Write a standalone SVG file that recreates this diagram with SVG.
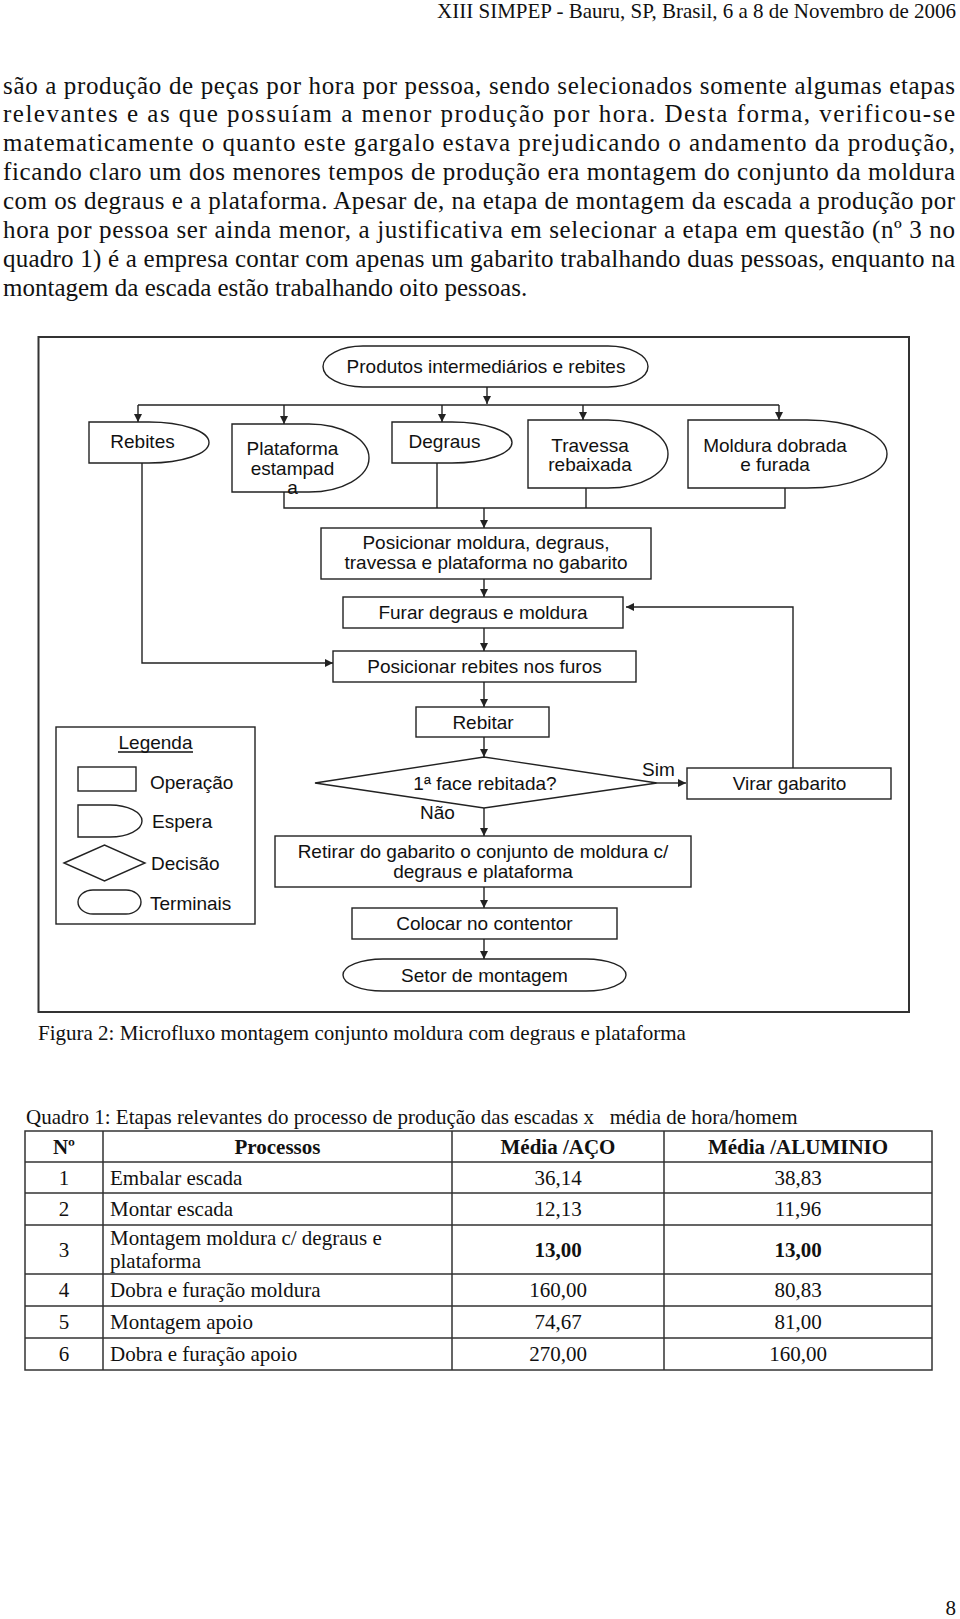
<svg xmlns="http://www.w3.org/2000/svg" width="960" height="1619" viewBox="0 0 960 1619">
<defs>
<style>
.ln{fill:none;stroke:#222;stroke-width:1.4}
.sh{fill:#fff;stroke:#222;stroke-width:1.4}
.fc{font-family:"Liberation Sans",Arial,sans-serif;font-size:19px;fill:#111}
.mid{text-anchor:middle}
.body{font-family:"Liberation Serif","Times New Roman",serif;font-size:25px;fill:#111}
.sm{font-family:"Liberation Serif","Times New Roman",serif;font-size:21px;fill:#111}
.b{font-weight:bold}
.tb{fill:none;stroke:#333;stroke-width:1.5}
</style>
<marker id="ah" viewBox="0 0 10 10" refX="10" refY="5" markerWidth="8" markerHeight="9" markerUnits="userSpaceOnUse" orient="auto">
<path d="M0,0 L10,5 L0,10 z" fill="#222"/>
</marker>
</defs>
<rect x="0" y="0" width="960" height="1619" fill="#fff"/>

<text class="sm" x="956" y="18" text-anchor="end">XIII SIMPEP - Bauru, SP, Brasil, 6 a 8 de Novembro de 2006</text>

<g id="body-text" class="body">
<text x="3" y="93.5" textLength="952" lengthAdjust="spacing">são a produção de peças por hora por pessoa, sendo selecionados somente algumas etapas</text>
<text x="3" y="122.4" textLength="952" lengthAdjust="spacing">relevantes e as que possuíam a menor produção por hora. Desta forma, verificou-se</text>
<text x="3" y="151.3" textLength="952" lengthAdjust="spacing">matematicamente o quanto este gargalo estava prejudicando o andamento da produção,</text>
<text x="3" y="180.2" textLength="952" lengthAdjust="spacing">ficando claro um dos menores tempos de produção era montagem do conjunto da moldura</text>
<text x="3" y="209.1" textLength="952" lengthAdjust="spacing">com os degraus e a plataforma. Apesar de, na etapa de montagem da escada a produção por</text>
<text x="3" y="238" textLength="952" lengthAdjust="spacing">hora por pessoa ser ainda menor, a justificativa em selecionar a etapa em questão (nº 3 no</text>
<text x="3" y="266.9" textLength="952" lengthAdjust="spacing">quadro 1) é a empresa contar com apenas um gabarito trabalhando duas pessoas, enquanto na</text>
<text x="3" y="295.8">montagem da escada estão trabalhando oito pessoas.</text>
</g>

<rect id="frame" x="38.5" y="337" width="870.5" height="675" fill="none" stroke="#333" stroke-width="2"/>

<g id="connectors" class="ln">
<path d="M487,387 V404" marker-end="url(#ah)"/>
<path d="M138,405 H779"/>
<path d="M138,405 V422" marker-end="url(#ah)"/>
<path d="M284,405 V424" marker-end="url(#ah)"/>
<path d="M442,405 V422" marker-end="url(#ah)"/>
<path d="M583,405 V420" marker-end="url(#ah)"/>
<path d="M779,405 V420" marker-end="url(#ah)"/>
<path d="M284,492 V508 H785 V488"/>
<path d="M437,463 V508"/>
<path d="M586,488 V508"/>
<path d="M484,508 V528" marker-end="url(#ah)"/>
<path d="M484,579 V597" marker-end="url(#ah)"/>
<path d="M484,628 V651" marker-end="url(#ah)"/>
<path d="M142,463 V663 H333" marker-end="url(#ah)"/>
<path d="M484,682 V707" marker-end="url(#ah)"/>
<path d="M484,737 V757" marker-end="url(#ah)"/>
<path d="M657,783 H686" marker-end="url(#ah)"/>
<path d="M793,768 V607 H626" marker-end="url(#ah)"/>
<path d="M484,808 V836" marker-end="url(#ah)"/>
<path d="M484,887 V908" marker-end="url(#ah)"/>
<path d="M484,939 V959" marker-end="url(#ah)"/>
</g>

<g id="n_top">
<rect class="sh" x="323" y="346" width="325" height="41" rx="40" ry="20.5"/>
<text class="fc mid" x="486" y="373">Produtos intermediários e rebites</text>
</g>
<g id="n_rebites">
<path class="sh" d="M89,422 H149 A60,20.5 0 0 1 149,463 H89 Z"/>
<text class="fc mid" x="142.5" y="448">Rebites</text>
</g>
<g id="n_plataforma">
<path class="sh" d="M232,424 H309 A60,34 0 0 1 309,492 H232 Z"/>
<text class="fc mid" x="292.5" y="455">Plataforma</text>
<text class="fc mid" x="292.5" y="475">estampad</text>
<text class="fc mid" x="292.5" y="494">a</text>
</g>
<g id="n_degraus">
<path class="sh" d="M392,422 H452 A60,20.5 0 0 1 452,463 H392 Z"/>
<text class="fc mid" x="444.5" y="448">Degraus</text>
</g>
<g id="n_travessa">
<path class="sh" d="M528,420 H608 A60,34 0 0 1 608,488 H528 Z"/>
<text class="fc mid" x="590" y="452">Travessa</text>
<text class="fc mid" x="590" y="471">rebaixada</text>
</g>
<g id="n_moldura">
<path class="sh" d="M688,420 H807 A80,34 0 0 1 807,488 H688 Z"/>
<text class="fc mid" x="775" y="452">Moldura dobrada</text>
<text class="fc mid" x="775" y="471">e furada</text>
</g>
<g id="n_posicionar">
<rect class="sh" x="321" y="528" width="330" height="51"/>
<text class="fc mid" x="486" y="549">Posicionar moldura, degraus,</text>
<text class="fc mid" x="486" y="569">travessa e plataforma no gabarito</text>
</g>
<g id="n_furar">
<rect class="sh" x="343" y="597" width="280" height="31"/>
<text class="fc mid" x="483" y="619">Furar degraus e moldura</text>
</g>
<g id="n_rebites_furos">
<rect class="sh" x="333" y="651" width="303" height="31"/>
<text class="fc mid" x="484.5" y="673">Posicionar rebites nos furos</text>
</g>
<g id="n_rebitar">
<rect class="sh" x="416" y="707" width="133" height="30"/>
<text class="fc mid" x="483" y="729">Rebitar</text>
</g>
<g id="n_decisao">
<path class="sh" d="M315,783 L484,757 L657,783 L484,808 Z"/>
<text class="fc mid" x="485" y="790">1ª face rebitada?</text>
<text class="fc" x="642" y="776">Sim</text>
<text class="fc" x="420" y="819">Não</text>
</g>
<g id="n_virar">
<rect class="sh" x="687" y="768" width="204" height="31"/>
<text class="fc mid" x="789.5" y="790">Virar gabarito</text>
</g>
<g id="n_retirar">
<rect class="sh" x="275" y="836" width="416" height="51"/>
<text class="fc mid" x="483" y="858">Retirar do gabarito o conjunto de moldura c/</text>
<text class="fc mid" x="483" y="878">degraus e plataforma</text>
</g>
<g id="n_colocar">
<rect class="sh" x="352" y="908" width="265" height="31"/>
<text class="fc mid" x="484.5" y="930">Colocar no contentor</text>
</g>
<g id="n_setor">
<rect class="sh" x="343" y="959" width="283" height="32" rx="40" ry="16"/>
<text class="fc mid" x="484.5" y="981.5">Setor de montagem</text>
</g>

<g id="legend">
<rect class="sh" x="56" y="727" width="199" height="197"/>
<text class="fc mid" x="155.5" y="749">Legenda</text>
<line x1="118" y1="752" x2="193" y2="752" stroke="#111" stroke-width="1.3"/>
<rect class="sh" x="78" y="767" width="58" height="24"/>
<text class="fc" x="150" y="789">Operação</text>
<path class="sh" d="M78,805 H110 A32,16 0 0 1 110,837 H78 Z"/>
<text class="fc" x="152" y="828">Espera</text>
<path class="sh" d="M64,863 L104.5,845 L145,863 L104.5,881 Z"/>
<text class="fc" x="151" y="870">Decisão</text>
<rect class="sh" x="78" y="890" width="63" height="24" rx="15" ry="12"/>
<text class="fc" x="150" y="910">Terminais</text>
</g>

<text class="sm" x="38" y="1040">Figura 2: Microfluxo montagem conjunto moldura com degraus e plataforma</text>

<text class="sm" x="26" y="1124" xml:space="preserve">Quadro 1: Etapas relevantes do processo de produção das escadas x   média de hora/homem</text>

<g id="table">
<rect class="tb" x="25" y="1131" width="907" height="239"/>
<path class="tb" d="M25,1162 H932 M25,1193 H932 M25,1225 H932 M25,1274 H932 M25,1306 H932 M25,1338 H932 M103,1131 V1370 M452,1131 V1370 M664,1131 V1370"/>
<g class="sm">
<text class="b mid" x="64" y="1154">Nº</text>
<text class="b mid" x="277.5" y="1154">Processos</text>
<text class="b mid" x="558" y="1154">Média /AÇO</text>
<text class="b mid" x="798" y="1154">Média /ALUMINIO</text>

<text class="mid" x="64" y="1185">1</text>
<text x="110" y="1185">Embalar escada</text>
<text class="mid" x="558" y="1185">36,14</text>
<text class="mid" x="798" y="1185">38,83</text>

<text class="mid" x="64" y="1216">2</text>
<text x="110" y="1216">Montar escada</text>
<text class="mid" x="558" y="1216">12,13</text>
<text class="mid" x="798" y="1216">11,96</text>

<text class="mid" x="64" y="1257">3</text>
<text x="110" y="1245">Montagem moldura c/ degraus e</text>
<text x="110" y="1268">plataforma</text>
<text class="b mid" x="558" y="1257">13,00</text>
<text class="b mid" x="798" y="1257">13,00</text>

<text class="mid" x="64" y="1297">4</text>
<text x="110" y="1297">Dobra e furação moldura</text>
<text class="mid" x="558" y="1297">160,00</text>
<text class="mid" x="798" y="1297">80,83</text>

<text class="mid" x="64" y="1329">5</text>
<text x="110" y="1329">Montagem apoio</text>
<text class="mid" x="558" y="1329">74,67</text>
<text class="mid" x="798" y="1329">81,00</text>

<text class="mid" x="64" y="1361">6</text>
<text x="110" y="1361">Dobra e furação apoio</text>
<text class="mid" x="558" y="1361">270,00</text>
<text class="mid" x="798" y="1361">160,00</text>
</g>
</g>

<text class="sm" x="956" y="1615" text-anchor="end">8</text>
</svg>
